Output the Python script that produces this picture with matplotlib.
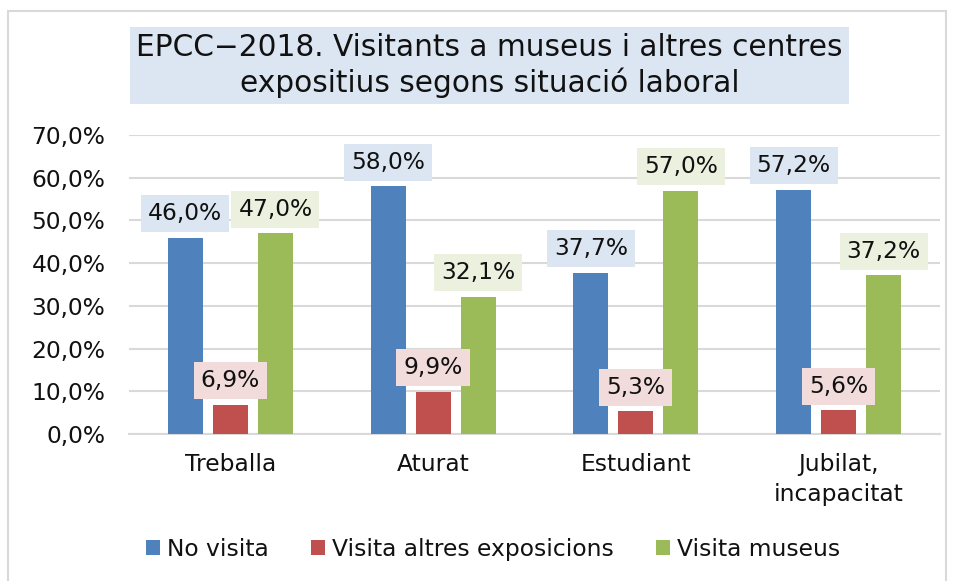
import numpy as np
import matplotlib
matplotlib.use("Agg")
import matplotlib.pyplot as plt
from matplotlib.patches import Rectangle

# Data
categories = ["Treballa", "Aturat", "Estudiant", "Jubilat,\nincapacitat"]
series_names = ["No visita", "Visita altres exposicions", "Visita museus"]
no_visita = [46.0, 58.0, 37.7, 57.2]
altres_expo = [6.9, 9.9, 5.3, 5.6]
museus = [47.0, 32.1, 57.0, 37.2]
yticks = [0, 10, 20, 30, 40, 50, 60, 70]

colors = ["#4F81BD", "#C0504D", "#9BBB59"]
label_bg = ["#DCE6F2", "#F2DCDB", "#EBF1DE"]

plt.rcParams['font.family'] = ['DejaVu Sans']
FS = 16.8

fig = plt.figure(figsize=(9.54, 5.81), dpi=100)
ax = fig.add_axes([129 / 954, 1 - 434 / 581, 811 / 954, 299 / 581])

# outer frame
fig.patches.append(Rectangle((8 / 954, -0.05), 938 / 954, 1.05 - 11 / 581,
                             transform=fig.transFigure, fill=False,
                             edgecolor="#D9D9D9", linewidth=1.5))

x = np.arange(len(categories))
width = 0.172
step = 0.222
for i, vals in enumerate([no_visita, altres_expo, museus]):
    pos = x + (i - 1) * step
    ax.bar(pos, vals, width, color=colors[i], label=series_names[i], zorder=3)
    for xp, v in zip(pos, vals):
        ax.annotate(f"{v:.1f}%".replace(".", ","), (xp, v),
                    xytext=(0, 9), textcoords="offset points",
                    ha="center", va="bottom", fontsize=FS, color="#111111", zorder=5,
                    bbox=dict(boxstyle="square,pad=0.3", fc=label_bg[i], ec="none"))

ax.set_xlim(-0.5, len(categories) - 0.5)
ax.set_ylim(0, 70)
ax.set_yticks(yticks)
ax.set_yticklabels([f"{t:.1f}%".replace(".", ",") for t in yticks], fontsize=FS,
                   color="#111111")
ax.set_xticks(x)
ax.set_xticklabels(categories, fontsize=FS, linespacing=1.35, color="#111111")
ax.tick_params(axis="y", length=0, pad=17)
ax.tick_params(axis="x", length=0, pad=14)
ax.grid(axis="y", color="#D9D9D9", linewidth=1.5, zorder=0)
for s in ["top", "right", "left"]:
    ax.spines[s].set_visible(False)
ax.spines["bottom"].set_color("#D9D9D9")
ax.spines["bottom"].set_linewidth(1.5)

fig.text(489.5 / 954, 1 - 65.5 / 581,
         "EPCC\u22122018. Visitants a museus i altres centres\nexpositius segons situació laboral",
         ha="center", va="center", fontsize=21.3, multialignment="center", color="#111111",
         bbox=dict(boxstyle="square,pad=0.22", fc="#DCE6F2", ec="none"))

leg = fig.legend(loc="center", bbox_to_anchor=(0.517, 0.055), ncol=3, frameon=False,
                 fontsize=FS, handlelength=0.6, handleheight=0.6, handletextpad=0.3,
                 columnspacing=1.8)
for t in leg.get_texts():
    t.set_color("#111111")

fig.savefig("out.png", dpi=100)
